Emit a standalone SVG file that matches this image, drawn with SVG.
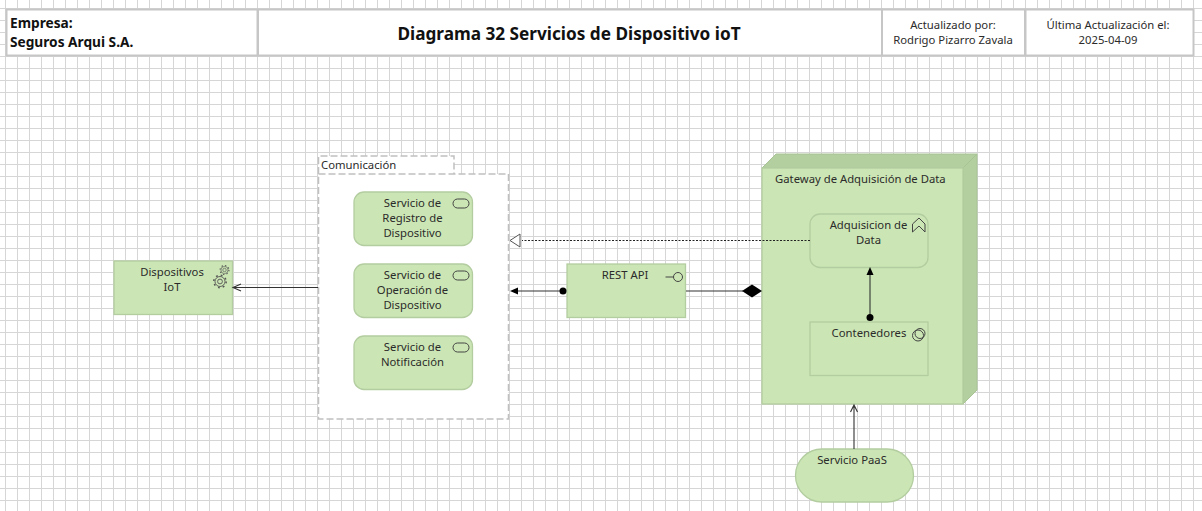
<svg xmlns="http://www.w3.org/2000/svg" width="1202" height="511" viewBox="0 0 1202 511">
<style>
text{font-family:"Noto Sans","Open Sans","Liberation Sans",sans-serif;font-size:11.3px;fill:#2b2b2b;text-anchor:middle}
.hd{fill:#fff;stroke:#c6c6c6;stroke-width:2}
.b{font-weight:700;fill:#111;font-size:13.7px;text-anchor:start}
.n{fill:#cbe6b4;stroke:#b3cda0;stroke-width:1.3}
.ic{fill:none;stroke:#444;stroke-width:1}
.c{fill:none;stroke:#333;stroke-width:1.1}
</style>
<defs>
<pattern id="grid" width="12" height="12" patternUnits="userSpaceOnUse" x="5" y="8">
<path d="M0 .5H12M.5 0V12" fill="none" stroke="#d6d6d6" stroke-width="1"/>
</pattern>
<g id="svc"><rect x="0" y="0" width="16" height="9" rx="4.5" class="ic"/></g>
<g id="gear"><circle r="5" fill="#cbe6b4" stroke="#555" stroke-width=".9"/><circle r="2.400" fill="none" stroke="#555" stroke-width=".9"/><circle r="6.200" fill="none" stroke="#555" stroke-width="1.500" stroke-dasharray="1.800 3.070"/></g>
</defs>
<rect width="1202" height="511" fill="#fff"/>
<rect width="1202" height="511" fill="url(#grid)"/>
<g id="header">
<rect class="hd" x="6.500" y="9.500" width="251" height="46"/>
<rect class="hd" x="258" y="9.500" width="624" height="46"/>
<rect class="hd" x="882" y="9.500" width="143" height="46"/>
<rect class="hd" x="1025.500" y="9.500" width="168" height="46"/>
<text class="b" x="10" y="28">Empresa:</text>
<text class="b" x="10" y="47">Seguros Arqui S.A.</text>
<text x="569" y="40" style="font-size:17.200px;font-weight:700;fill:#111">Diagrama 32 Servicios de Dispositivo ioT</text>
<text x="953" y="29">Actualizado por:</text>
<text x="953" y="44">Rodrigo Pizarro Zavala</text>
<text x="1108" y="29">Última Actualización el:</text>
<text x="1108" y="44">2025-04-09</text>
</g>
<g id="comunicacion">
<path d="M318.500 174V156H454V174" fill="#fff" stroke="#c0c0c0" stroke-width="1.500" stroke-dasharray="7 3"/>
<rect x="318.500" y="174" width="190" height="245" fill="#fff" stroke="#c0c0c0" stroke-width="1.500" stroke-dasharray="7 3"/>
<text x="321" y="169" style="text-anchor:start">Comunicación</text>
</g>
<g id="dispositivos">
<rect class="n" x="114" y="261" width="118.500" height="53.500"/>
<text x="172" y="276">Dispositivos</text><text x="172" y="291">IoT</text>
<g transform="translate(224.500 270) scale(.72)"><use href="#gear"/></g>
<use href="#gear" x="220" y="281.500"/>
</g>
<g id="svc1">
<rect class="n" x="354" y="192" width="118.500" height="53.500" rx="10"/>
<text x="412.500" y="207">Servicio de</text><text x="412.500" y="222">Registro de</text><text x="412.500" y="237">Dispositivo</text>
<use href="#svc" x="453" y="199"/>
</g>
<g id="svc2">
<rect class="n" x="354" y="264" width="118.500" height="53.500" rx="10"/>
<text x="412.500" y="279">Servicio de</text><text x="412.500" y="294">Operación de</text><text x="412.500" y="309">Dispositivo</text>
<use href="#svc" x="453" y="271"/>
</g>
<g id="svc3">
<rect class="n" x="354" y="336" width="118.500" height="53.500" rx="10"/>
<text x="412.500" y="351">Servicio de</text><text x="412.500" y="366">Notificación</text>
<use href="#svc" x="453" y="343"/>
</g>
<g id="rest">
<rect class="n" x="567" y="264" width="118.500" height="53.500"/>
<text x="625" y="279">REST API</text>
<circle class="ic" cx="678" cy="277" r="4.500"/><path class="ic" d="M665.500 277H673.500"/>
</g>
<g id="gateway">
<path d="M762 168L776 154H977L963 168Z" fill="#b3cfa0" stroke="#a8c495"/>
<path d="M963 168L977 154V390L963 404Z" fill="#b3cfa0" stroke="#a8c495"/>
<rect class="n" x="762" y="168" width="201" height="236"/>
<text x="775" y="183" style="text-anchor:start">Gateway de Adquisición de Data</text>
</g>
<g id="adquisicion">
<rect class="n" x="810" y="214" width="118" height="53.500" rx="10"/>
<text x="868.500" y="229">Adquisicion de</text><text x="868.500" y="244">Data</text>
<path class="ic" d="M912.500 232V224L919 218L925 224V232L919 226Z"/>
</g>
<g id="contenedores">
<rect class="n" x="810" y="322" width="118" height="53.500"/>
<text x="869" y="337">Contenedores</text>
<circle class="ic" cx="918" cy="335.500" r="5.500"/><circle class="ic" cx="920" cy="333.500" r="5"/>
</g>
<g id="paas">
<rect class="n" x="795.500" y="449" width="118" height="53" rx="26.500"/>
<text x="852" y="464">Servicio PaaS</text>
</g>
<g id="connectors">
<path class="c" d="M318 287.500H233M241 284L233 287.500L241 291"/>
<path d="M810 240.500H522" fill="none" stroke="#222" stroke-width="1.200" stroke-dasharray="2 1.500"/>
<path d="M510 240.500L520 234V247Z" fill="#fff" stroke="#555"/>
<path class="c" d="M563 291H518"/>
<circle cx="563" cy="291" r="3.500" fill="#000"/>
<path d="M510 291L518 287.500V294.500Z" fill="#000"/>
<path class="c" d="M686 291H743"/>
<path d="M742 291L752 284.500L762 291L752 297.500Z" fill="#000"/>
<path class="c" d="M870 317V274"/>
<circle cx="870" cy="317.500" r="3.500" fill="#000"/>
<path d="M870 267L866.500 275H873.500Z" fill="#000"/>
<path class="c" d="M854 449V405M850.500 412L854 405L857.500 412"/>
</g>
</svg>
